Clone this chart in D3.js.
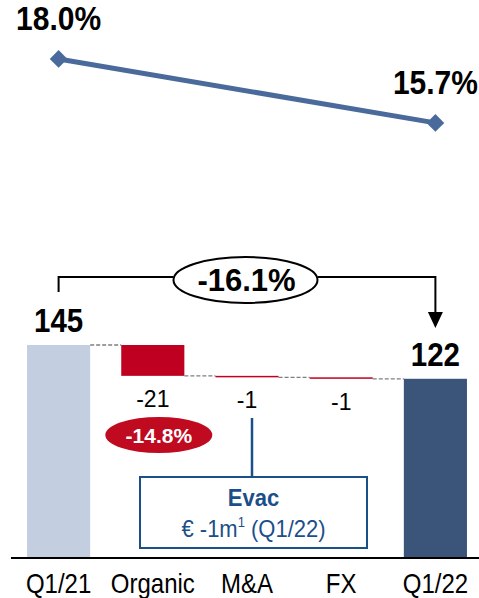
<!DOCTYPE html>
<html>
<head>
<meta charset="utf-8">
<script src="https://cdn.jsdelivr.net/npm/d3@7"></script>
<style>
  html, body { margin: 0; padding: 0; background: #fff; }
  svg { display: block; font-family: Arial, "Liberation Sans", sans-serif; }
</style>
</head>
<body>
<svg id="chart" width="479" height="598"></svg>
<script>
// Bridge categories and their values (EUR m)
const categories = ["Q1/21", "Organic", "M&A", "FX", "Q1/22"];
const values = [145, -21, -1, -1, 122];
const kinds = ["total", "delta", "delta", "delta", "total"];

// Margin line (top panel)
const marginCats = ["Q1/21", "Q1/22"];
const marginValues = [18.0, 15.7];

// Annotations
const totalChange = "-16.1%";
const organicShare = "-14.8%";
const noteTitle = "Evac";
const noteText = "€ -1m";
const noteSup = "1";
const noteTail = " (Q1/22)";

const svg = d3.select("#chart");
const TALL = 1.13; // vertical stretch of the heavier labels

// Place a text at (x, baseline y), optionally stretched vertically about its baseline
function placeText(sel, x, y, sy) {
  return sel.attr("x", 0).attr("y", 0)
    .attr("transform", `translate(${x},${y}) scale(1,${sy || 1})`);
}

const x = d3.scaleBand()
  .domain(categories)
  .range([11.5, 482.5])
  .paddingInner(0.33)
  .paddingOuter(0.165);

const y = d3.scaleLinear().domain([0, 145]).range([558, 345]);
const yPct = d3.scaleLinear().domain([13, 20]).range([198, 3.3]);

const colors = {
  "Q1/21": "#c3cee1",
  "Q1/22": "#3a5579",
  delta: "#c00020"
};

// Compute floating bar extents
let running = 0;
const bars = categories.map((c, i) => {
  let y0, y1;
  if (kinds[i] === "total") {
    y0 = 0; y1 = values[i]; running = values[i];
  } else {
    y0 = running; y1 = running + values[i]; running = y1;
  }
  return { cat: c, value: values[i], kind: kinds[i], lo: Math.min(y0, y1), hi: Math.max(y0, y1), end: y1 };
});

// Dashed connectors between bars
const conn = svg.append("g");
bars.slice(0, -1).forEach((b, i) => {
  const level = b.kind === "total" ? b.hi : b.end;
  conn.append("line")
    .attr("x1", x(b.cat) + x.bandwidth())
    .attr("x2", x(bars[i + 1].cat))
    .attr("y1", y(level))
    .attr("y2", y(level))
    .attr("stroke", "#7f7f7f")
    .attr("stroke-width", 1.3)
    .attr("stroke-dasharray", "4,2");
});

// Bars
svg.append("g").selectAll("rect")
  .data(bars)
  .join("rect")
  .attr("x", d => x(d.cat))
  .attr("width", x.bandwidth())
  .attr("y", d => y(d.hi))
  .attr("height", d => Math.max(1.5, y(d.lo) - y(d.hi)))
  .attr("fill", d => d.kind === "total" ? colors[d.cat] : colors.delta);

// Baseline
svg.append("line")
  .attr("x1", 11).attr("x2", 479)
  .attr("y1", y(0)).attr("y2", y(0))
  .attr("stroke", "#000").attr("stroke-width", 2);

// Category axis labels
const xAxis = d3.axisBottom(x).tickSize(0).tickPadding(0);
const axisG = svg.append("g")
  .attr("transform", `translate(0, ${y(0)})`)
  .call(xAxis);
axisG.select(".domain").remove();
axisG.selectAll(".tick text")
  .attr("dy", null)
  .attr("y", 0)
  .attr("transform", `translate(0,35) scale(1,${TALL})`)
  .attr("font-size", 24)
  .attr("font-family", "Arial, 'Liberation Sans', sans-serif")
  .attr("fill", "#000");

// Total labels
bars.filter(d => d.kind === "total").forEach(d => {
  placeText(svg.append("text"), x(d.cat) + x.bandwidth() / 2, y(d.hi) - 13, TALL)
    .attr("text-anchor", "middle")
    .attr("font-size", 29.5)
    .attr("font-weight", "bold")
    .text(d.value);
});

// Delta labels
bars.filter(d => d.kind === "delta").forEach(d => {
  placeText(svg.append("text"), x(d.cat) + x.bandwidth() / 2, y(d.lo) + 31, 1.05)
    .attr("text-anchor", "middle")
    .attr("font-size", 23)
    .text(d.value);
});

// Margin line
const lineData = marginCats.map((c, i) => ({ cx: x(c) + x.bandwidth() / 2, v: marginValues[i] }));
svg.append("path")
  .datum(lineData)
  .attr("d", d3.line().x(d => d.cx).y(d => yPct(d.v)))
  .attr("fill", "none")
  .attr("stroke", "#4a6a9c")
  .attr("stroke-width", 5);
svg.append("g").selectAll("path")
  .data(lineData)
  .join("path")
  .attr("d", d3.symbol().type(d3.symbolDiamond2).size(200))
  .attr("transform", d => `translate(${d.cx},${yPct(d.v)})`)
  .attr("fill", "#4a6a9c");
lineData.forEach(d => {
  placeText(svg.append("text"), d.cx, yPct(d.v) - 29, TALL)
    .attr("text-anchor", "middle")
    .attr("font-size", 30)
    .attr("font-weight", "bold")
    .text(d.v.toFixed(1) + "%");
});

// Overall change bracket
const xL = x("Q1/21") + x.bandwidth() / 2;
const xR = x("Q1/22") + x.bandwidth() / 2;
const bracketY = 277;
const ell = { cx: 245.5, cy: 280, rx: 72, ry: 23 };
const br = svg.append("g").attr("stroke", "#000").attr("stroke-width", 2).attr("fill", "none");
br.append("path").attr("d", `M${xL},292 V${bracketY} H${ell.cx - ell.rx}`);
br.append("path").attr("d", `M${ell.cx + ell.rx},${bracketY} H${xR} V313`);
svg.append("path")
  .attr("d", `M${xR - 7.5},312 L${xR + 7.5},312 L${xR},328 Z`)
  .attr("fill", "#000");
svg.append("ellipse")
  .attr("cx", ell.cx).attr("cy", ell.cy).attr("rx", ell.rx).attr("ry", ell.ry)
  .attr("fill", "#fff").attr("stroke", "#000").attr("stroke-width", 2);
placeText(svg.append("text"), ell.cx + 1, 291, 1.0)
  .attr("text-anchor", "middle")
  .attr("font-size", 31)
  .attr("font-weight", "bold")
  .text(totalChange);

// Organic share bubble
const orgC = x("Organic") + x.bandwidth() / 2;
svg.append("ellipse")
  .attr("cx", orgC + 6).attr("cy", 435).attr("rx", 53.5).attr("ry", 18)
  .attr("fill", "#c00a20");
placeText(svg.append("text"), orgC + 6, 443, 1.0)
  .attr("text-anchor", "middle")
  .attr("font-size", 21)
  .attr("font-weight", "bold")
  .attr("fill", "#fff")
  .text(organicShare);

// Evac note box
const maC = x("M&A") + x.bandwidth() / 2 + 5;
const noteBlue = "#1b4f8a";
svg.append("line")
  .attr("x1", maC).attr("x2", maC).attr("y1", 418).attr("y2", 477)
  .attr("stroke", noteBlue).attr("stroke-width", 2.5);
svg.append("rect")
  .attr("x", 140).attr("y", 477).attr("width", 227).attr("height", 71)
  .attr("fill", "#fff").attr("stroke", noteBlue).attr("stroke-width", 2);
placeText(svg.append("text"), 253.5, 506, 1.08)
  .attr("text-anchor", "middle")
  .attr("font-size", 22)
  .attr("font-weight", "bold")
  .attr("fill", noteBlue)
  .text(noteTitle);
const nt = placeText(svg.append("text"), 253.5, 537, 1.08)
  .attr("text-anchor", "middle")
  .attr("font-size", 22)
  .attr("fill", noteBlue);
nt.append("tspan").text(noteText);
nt.append("tspan").attr("font-size", 13).attr("dy", -9).text(noteSup);
nt.append("tspan").attr("dy", 9).text(noteTail);
</script>
</body>
</html>
